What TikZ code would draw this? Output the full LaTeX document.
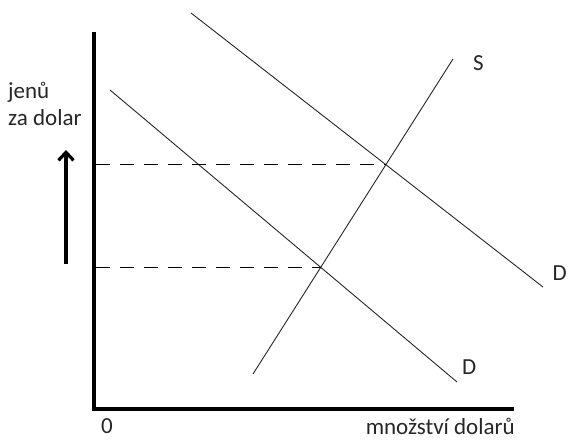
\documentclass[tikz,border=0pt]{standalone}
\usepackage{fontspec}
\setmainfont{Carlito}
\usetikzlibrary{arrows.meta}
\begin{document}
\begin{tikzpicture}[x=1pt,y=-1pt,
  axis/.style={line width=4.5pt},
  curve/.style={line width=0.9pt, black!85},
  guide/.style={line width=0.9pt, dash pattern=on 14pt off 10pt},
  lbl/.style={font=\fontsize{23}{27}\selectfont, text=black!85, inner sep=0pt}]
\useasboundingbox (0,0) rectangle (568,441);
% axes
\coordinate (top) at (94,34);
\coordinate (orig) at (94,409);
\coordinate (xend) at (512,409);
\draw[axis, line cap=rect] (top) -- (orig) -- (xend);
% curves
\coordinate (d1a) at (110,90);
\coordinate (d1b) at (457,382);
\coordinate (d2a) at (191,13);
\coordinate (d2b) at (543,287);
\coordinate (sa) at (253,374);
\coordinate (sb) at (453,59);
\draw[curve] (d1a) -- (d1b);
\draw[curve] (d2a) -- (d2b);
\draw[curve] (sa) -- (sb);
% equilibria
\coordinate (e1) at (386,164);
\coordinate (e2) at (321,267);
\coordinate (y1) at (96,164);
\coordinate (y2) at (96,267);
\draw[guide] (y1) -- (e1);
\draw[guide] (y2) -- (e2);
% arrow
\coordinate (ab) at (66,264);
\coordinate (at) at (66,150);
\draw[line width=3.5pt, -{Straight Barb[length=8pt,width=15pt,line width=3.2pt]}] (ab) -- (at);
% labels
\node[lbl, anchor=base west] (ylab1) at (8,99) {jenů};
\node[lbl, anchor=base west] (ylab2) at (8,126) {za dolar};
\node[lbl, anchor=base west] (zero) at (101,433) {0};
\node[lbl, anchor=base east] (xlab) at (515,434) {množství dolarů};
\node[lbl, anchor=base west] (slab) at (473,71) {S};
\node[lbl, anchor=base west] (dlab1) at (462,374) {D};
\node[lbl, anchor=base east] (dlab2) at (567,280) {D};
\end{tikzpicture}
\end{document}
